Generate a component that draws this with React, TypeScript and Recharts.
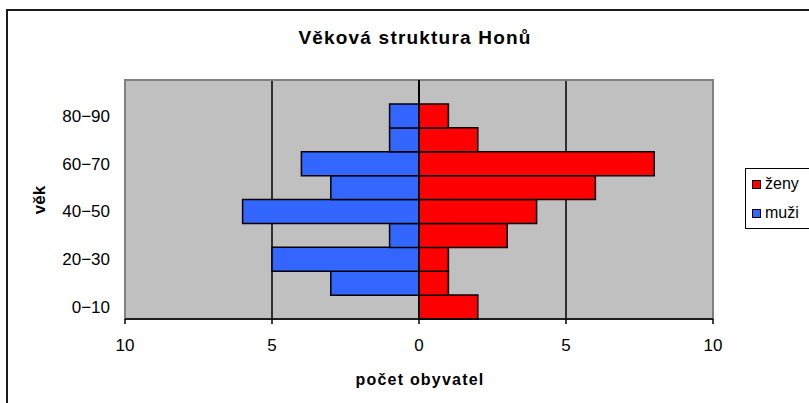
import { Bar, BarChart, CartesianGrid, ReferenceArea, ReferenceLine, XAxis, YAxis } from "recharts"

// age groups, bottom to top (the top one has no people)
const ageGroups = ["0−10", "10−20", "20−30", "30−40", "40−50", "50−60", "60−70", "70−80", "80−90", "90−100"]
const zeny = [2, 1, 1, 3, 4, 6, 8, 2, 1, null]
const muzi = [0, 3, 5, 1, 6, 3, 4, 1, 1, null]
const xTicks = [-10, -5, 0, 5, 10]

const RED = "#ff0000"
const BLUE = "#3366ff"
const FONT = "'Liberation Sans', Arial, sans-serif"

// men go to the left, so store them negative
const data = ageGroups.map((age, i) => ({
  age,
  zeny: zeny[i],
  muzi: muzi[i] == null ? null : -(muzi[i] as number),
}))

const legendItems = [
  { label: "ženy", color: RED },
  { label: "muži", color: BLUE },
]

export default function App() {
  return (
    <div style={{ position: "absolute", left: 0, top: 0, width: 809, height: 403, overflow: "hidden", background: "#fff", fontFamily: FONT }}>
      {/* outer chart frame, runs off the right and bottom edges */}
      <div style={{ position: "absolute", left: 6, top: 9, width: 840, height: 420, border: "2px solid #1a1a1a" }} />

      <div style={{ position: "absolute", left: 0, top: 27, width: 830, textAlign: "center", fontSize: 19, fontWeight: "bold", letterSpacing: 1.2 }}>
        Věková struktura Honů
      </div>

      <div style={{ position: "absolute", left: 0, top: 0 }}>
        <BarChart
          width={809}
          height={403}
          data={data}
          layout="vertical"
          stackOffset="sign"
          barCategoryGap={0}
          margin={{ top: 80, right: 96, bottom: 54, left: 65 }}
        >
          <CartesianGrid horizontal={false} vertical stroke="#000" strokeWidth={1.5} fill="#c0c0c0" fillOpacity={1} />
          <ReferenceArea x1={-10} x2={10} fill="none" stroke="#808080" strokeWidth={2} />
          <XAxis
            type="number"
            domain={[-10, 10]}
            ticks={xTicks}
            tickFormatter={(v) => String(Math.abs(v))}
            height={30}
            stroke="#000"
            tickSize={5}
            tickMargin={15}
            tick={{ fill: "#000", fontSize: 17, fontFamily: FONT }}
            axisLine={{ stroke: "#000", strokeWidth: 1.5 }}
            tickLine={{ stroke: "#000", strokeWidth: 1.5 }}
          />
          <YAxis
            type="category"
            dataKey="age"
            reversed
            interval={1}
            width={60}
            axisLine={false}
            tickLine={false}
            tickSize={6}
            tickMargin={9}
            tick={{ fill: "#000", fontSize: 17, fontFamily: FONT }}
          />
          <Bar dataKey="zeny" name="ženy" stackId="a" fill={RED} stroke="#000" strokeWidth={1.5} isAnimationActive={false} />
          <Bar dataKey="muzi" name="muži" stackId="a" fill={BLUE} stroke="#000" strokeWidth={1.5} isAnimationActive={false} />
          <ReferenceLine x={0} stroke="#000" strokeWidth={2} />
        </BarChart>
      </div>

      {/* axis titles */}
      <div style={{ position: "absolute", left: 20, top: 190, width: 40, textAlign: "center", fontSize: 17, fontWeight: "bold", transform: "rotate(-90deg)" }}>
        věk
      </div>
      <div style={{ position: "absolute", left: 300, top: 371, width: 240, textAlign: "center", fontSize: 16, fontWeight: "bold", letterSpacing: 1.2 }}>
        počet obyvatel
      </div>

      {/* legend */}
      <div style={{ position: "absolute", left: 745, top: 168, width: 90, height: 59, border: "1px solid #000", background: "#fff" }}>
        {legendItems.map((item, i) => (
          <div key={item.label} style={{ position: "absolute", left: 6, top: 6 + i * 29, display: "flex", alignItems: "center", fontSize: 16 }}>
            <span style={{ width: 7, height: 7, background: item.color, border: "1px solid #000", marginRight: 4 }} />
            <span>{item.label}</span>
          </div>
        ))}
      </div>
    </div>
  )
}
